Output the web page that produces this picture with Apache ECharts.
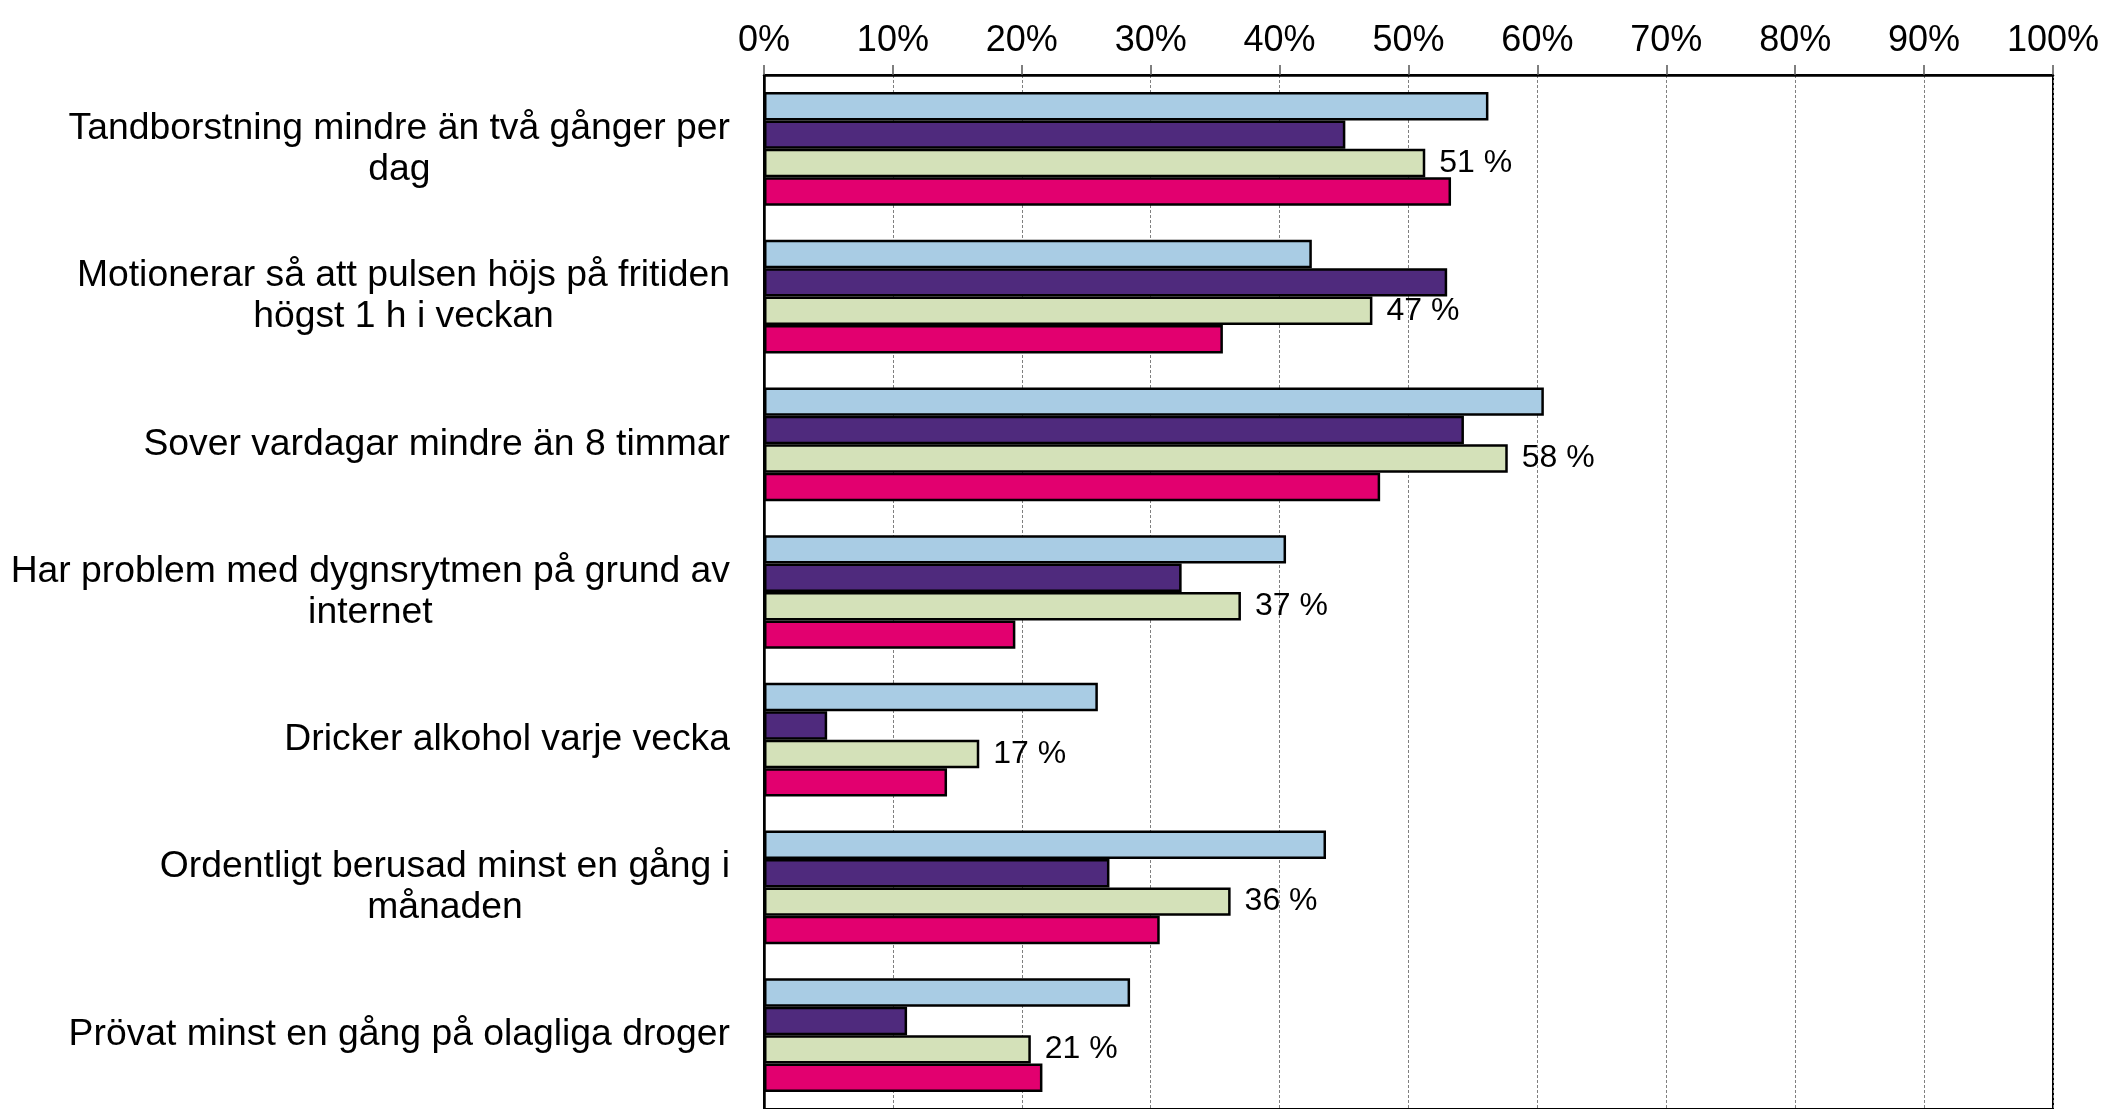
<!DOCTYPE html>
<html>
<head>
<meta charset="utf-8">
<script src="https://cdn.jsdelivr.net/npm/echarts@6/dist/echarts.min.js"></script>
<style>
html,body{margin:0;padding:0;background:#fff;}
#chart{width:2105px;height:1109px;}
</style>
</head>
<body>
<div id="chart"></div>
<script>
// Categories (top to bottom)
const categories = [
  'Tandborstning mindre än två gånger per\ndag',
  'Motionerar så att pulsen höjs på fritiden\nhögst 1 h i veckan',
  'Sover vardagar mindre än 8 timmar',
  'Har problem med dygnsrytmen på grund av\ninternet',
  'Dricker alkohol varje vecka',
  'Ordentligt berusad minst en gång i\nmånaden',
  'Prövat minst en gång på olagliga droger'
];
// Series values (percent)
const seriesBlue   = [56.2, 42.5, 60.5, 40.5, 25.9, 43.6, 28.4];
const seriesPurple = [45.1, 53.0, 54.3, 32.4, 4.9, 26.8, 11.1];
const seriesGreen  = [51.3, 47.2, 57.7, 37.0, 16.7, 36.2, 20.7];
const seriesPink   = [53.3, 35.6, 47.8, 19.5, 14.2, 30.7, 21.6];
const seriesNames  = ['Serie 1', 'Serie 2', 'Serie 3', 'Serie 4'];
// Axis ticks
const xMin = 0, xMax = 100, xStep = 10;

const FONT = '"Liberation Sans", Arial, sans-serif';
const colors = ['#A9CCE4', '#4F2A7D', '#D4E1B9', '#E2006F'];

function mk(name, data, color, withLabel) {
  return {
    name: name,
    type: 'bar',
    data: data,
    barGap: '0%',
    barCategoryGap: '23%',
    itemStyle: { color: color, borderColor: '#000', borderWidth: 2.5 },
    label: withLabel ? {
      show: true, position: 'right', distance: 14,
      formatter: p => Math.round(p.value) + ' %',
      fontFamily: FONT, fontSize: 32, color: '#000'
    } : { show: false },
    silent: true
  };
}

const chart = echarts.init(document.getElementById('chart'));
chart.setOption({
  animation: false,
  backgroundColor: '#fff',
  grid: { left: 764, right: 52, top: 75, height: 1038, show: true, borderColor: '#000', borderWidth: 2, backgroundColor: 'transparent' },
  xAxis: {
    type: 'value', position: 'top', min: xMin, max: xMax, interval: xStep,
    axisLine: { show: true, lineStyle: { color: '#000', width: 2.5 } },
    axisTick: { show: true, length: 10, lineStyle: { color: '#555', width: 1.5 } },
    axisLabel: { formatter: '{value}%', fontFamily: FONT, fontSize: 36, color: '#000', margin: 16 },
    splitLine: { show: true, lineStyle: { color: '#7f7f7f', width: 1, type: [3, 2] } }
  },
  yAxis: {
    type: 'category', data: categories, inverse: true,
    axisLine: { show: true, lineStyle: { color: '#000', width: 2.5 } },
    axisTick: { show: false },
    axisLabel: {
      margin: 34, align: 'right', color: '#000',
      formatter: v => v.split('\n').map(l => '{c|' + l + '}').join('\n'),
      rich: { c: { align: 'center', fontFamily: FONT, fontSize: 37.3, lineHeight: 41, color: '#000' } }
    }
  },
  series: [
    mk(seriesNames[0], seriesBlue, colors[0], false),
    mk(seriesNames[1], seriesPurple, colors[1], false),
    mk(seriesNames[2], seriesGreen, colors[2], true),
    mk(seriesNames[3], seriesPink, colors[3], false)
  ]
});
</script>
</body>
</html>
